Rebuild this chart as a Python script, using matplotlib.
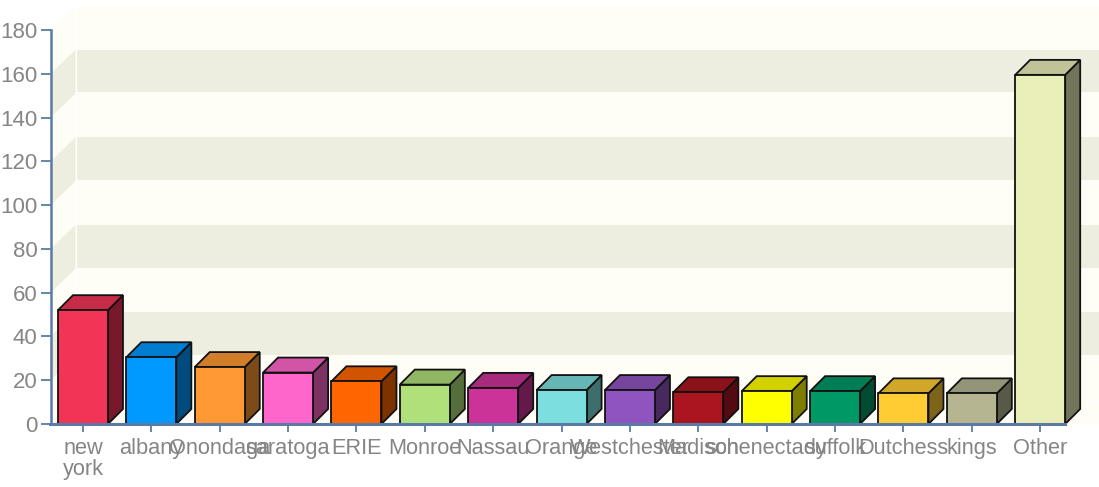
import numpy as np
from matplotlib import pyplot as plt
from matplotlib.patches import Polygon, Rectangle
from matplotlib.transforms import ScaledTranslation

plt.rcParams['font.family'] = ['Liberation Sans', 'DejaVu Sans']

categories = ['new\nyork', 'albany', 'Onondaga', 'saratoga', 'ERIE', 'Monroe', 'Nassau', 'Orange',
              'Westchester', 'Madison', 'schenectady', 'suffolk', 'Dutchess', 'kings', 'Other']
values = [52, 30.5, 26, 23.5, 19.5, 18, 16.5, 15.5, 15.5, 14.5, 15, 15, 14, 14, 159.5]
colors = ['#F23456', '#0099FF', '#FF9933', '#FF66CC', '#FF6600', '#B0E07A', '#CC3399', '#7CDEDE',
          '#9054C0', '#AA1520', '#FFFF00', '#009966', '#FFCC33', '#B5B592', '#EAEEB8']
y_ticks = [0, 20, 40, 60, 80, 100, 120, 140, 160, 180]
bands = [(140, 160), (100, 120), (60, 80), (20, 40)]

W, H = 1099, 487
AXIS = '#5B7BA6'
TEXT = '#858585'
WALL = '#FEFEF7'
BAND = '#EDEDE0'


def shade(color, k):
    rgb = np.array(plt.matplotlib.colors.to_rgb(color))
    return tuple(rgb * k)


fig = plt.figure(figsize=(W / 100, H / 100), dpi=100)
# axes box in pixels: left 50, right edge of image, zero at y=424, 180 at y=30
ax = fig.add_axes([50.5 / W, (H - 424) / H, (W - 50.5) / W, 394 / H])
ax.set_xlim(-0.475, 14.86)
ax.set_ylim(0, 180)

# pixel to data scale
px_x = (14.86 + 0.475) / (W - 50.5)
px_y = 180 / 394

# back wall and left side
wall_dx = 25 * px_x
wall_dy = 24 * px_y
x0 = -0.475
x1 = 14.86
gap = 1.5 * px_x
top = 180 + wall_dy

ax.add_patch(Polygon([(x0, 0), (x0, 180), (x0 + wall_dx, top), (x0 + wall_dx, wall_dy)],
                     fc=WALL, ec='none', clip_on=False, zorder=1))
ax.add_patch(Rectangle((x0 + wall_dx + gap, wall_dy), x1 - x0, 180, fc=WALL, ec='none',
                       clip_on=False, zorder=1))
ax.add_patch(Rectangle((x0, 0), x1 - x0, wall_dy - 0.5, fc=WALL, ec='none', zorder=1))
for low, high in bands:
    ax.add_patch(Polygon([(x0, low), (x0, high), (x0 + wall_dx, high + wall_dy), (x0 + wall_dx, low + wall_dy)],
                         fc=BAND, ec='none', clip_on=False, zorder=2))
    ax.add_patch(Rectangle((x0 + wall_dx + gap, low + wall_dy + 0.5), x1 - x0, high - low - 0.5,
                           fc=BAND, ec='none', zorder=2))

# 3d bars
bar_w = 50 * px_x
dx = 15 * px_x
dy = 15 * px_y
for i, (v, c) in enumerate(zip(values, colors)):
    l = i - bar_w / 2
    r = i + bar_w / 2
    ax.add_patch(Polygon([(r, 0), (r, v), (r + dx, v + dy), (r + dx, dy)], fc=shade(c, 0.49),
                         ec='#111111', lw=1.3, zorder=4, clip_on=False))
    ax.add_patch(Polygon([(l, v), (r, v), (r + dx, v + dy), (l + dx, v + dy)], fc=shade(c, 0.82),
                         ec='#111111', lw=1.3, zorder=4, clip_on=False))
    ax.add_patch(Rectangle((l, 0), bar_w, v, fc=c, ec='#111111', lw=1.3, zorder=5))

ax.patch.set_visible(False)
for s in ['top', 'right']:
    ax.spines[s].set_visible(False)
ax.spines['left'].set_color(AXIS)
ax.spines['left'].set_linewidth(1.8)
ax.spines['bottom'].set_color(AXIS)
ax.spines['bottom'].set_linewidth(2.2)
ax.spines['bottom'].set_bounds(x0, 14.36)
ax.spines['left'].set_zorder(6)
ax.spines['bottom'].set_zorder(6)

ax.set_yticks(y_ticks)
ax.set_xticks(range(len(categories)))
ax.set_xticklabels(categories, linespacing=1.0, va='baseline')
ax.tick_params(axis='y', length=7, width=1.3, color=AXIS, labelcolor=TEXT, labelsize=16, pad=2.5)
ax.tick_params(axis='x', length=6, width=1.3, color=AXIS, labelcolor=TEXT, labelsize=15.7, pad=15.5)

# two-line label: baseline sits on its last line, push it down one line
first = ax.get_xticklabels()[0]
first.set_transform(first.get_transform() + ScaledTranslation(0, -21 / 100, fig.dpi_scale_trans))

fig.savefig('out.png', dpi=100, facecolor='white')
